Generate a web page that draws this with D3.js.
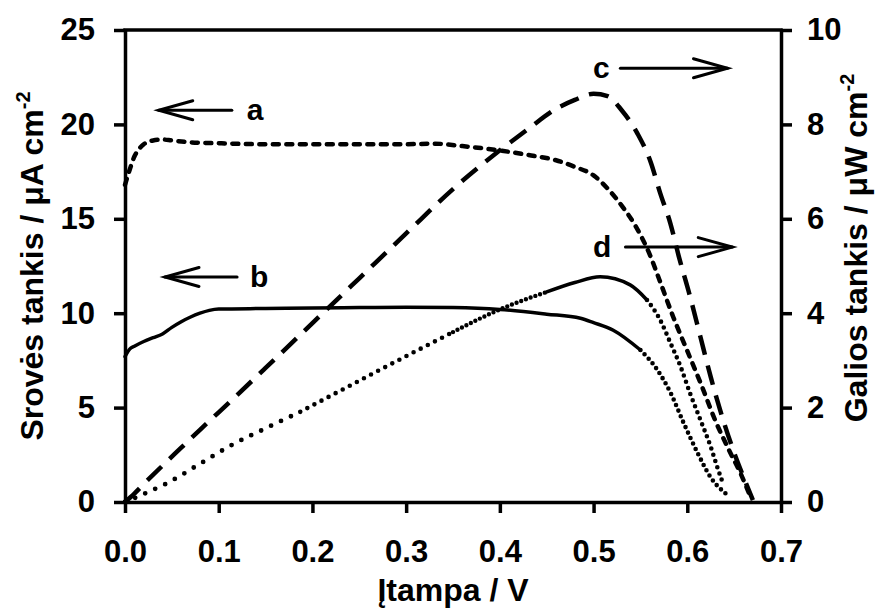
<!DOCTYPE html>
<html>
<head>
<meta charset="utf-8">
<script src="https://cdn.jsdelivr.net/npm/d3@7"></script>
<style>
  body { margin: 0; background: #fff; }
  svg text { font-family: "Liberation Sans", Arial, sans-serif; font-weight: bold; fill: #000; }
</style>
</head>
<body>
<svg id="chart" width="881" height="610"></svg>
<script>
// Current density (a, b; left axis) and power density (c, d; right axis) vs. voltage.

// a – current density, µA cm-2
const voltageA = [0, 0.005, 0.01, 0.015, 0.02, 0.03, 0.04, 0.05, 0.07, 0.1, 0.15, 0.2, 0.25, 0.3, 0.33, 0.36, 0.4, 0.43, 0.46, 0.48, 0.5, 0.515, 0.53, 0.545, 0.56, 0.57, 0.585, 0.6, 0.615, 0.63, 0.645, 0.657, 0.668];
const currentA = [16.8, 17.6, 18.3, 18.7, 18.95, 19.15, 19.2, 19.15, 19.05, 19.0, 18.95, 18.95, 18.95, 18.95, 18.98, 18.85, 18.62, 18.38, 18.1, 17.75, 17.3, 16.6, 15.7, 14.6, 13.1, 11.8, 9.8, 8.0, 6.2, 4.3, 2.7, 1.5, 0.2];

// b – current density, µA cm-2
const voltageB = [0, 0.005, 0.01, 0.02, 0.03, 0.04, 0.05, 0.06, 0.07, 0.08, 0.09, 0.1, 0.15, 0.2, 0.25, 0.3, 0.35, 0.4, 0.45, 0.486, 0.5, 0.521, 0.55, 0.568, 0.582, 0.596, 0.611, 0.625, 0.641];
const currentB = [7.7, 8.1, 8.25, 8.5, 8.7, 8.9, 9.25, 9.55, 9.8, 10.0, 10.15, 10.22, 10.25, 10.28, 10.3, 10.32, 10.3, 10.2, 9.95, 9.73, 9.5, 9.1, 8.05, 7.0, 5.8, 4.2, 2.6, 1.3, 0.45];

// c – power density, µW cm-2
const voltageC = [0, 0.01, 0.02, 0.04, 0.06, 0.08, 0.1, 0.15, 0.2, 0.25, 0.3, 0.35, 0.4, 0.43, 0.46, 0.48, 0.5, 0.515, 0.53, 0.547, 0.561, 0.571, 0.582, 0.591, 0.603, 0.614, 0.625, 0.635, 0.649, 0.66, 0.67];
const powerC = [0, 0.18, 0.38, 0.77, 1.15, 1.53, 1.9, 2.84, 3.79, 4.74, 5.69, 6.63, 7.45, 7.9, 8.33, 8.52, 8.65, 8.6, 8.3, 7.8, 7.2, 6.55, 5.9, 5.2, 4.35, 3.5, 2.65, 1.95, 1.1, 0.53, 0.04];

// d – power density, µW cm-2
const voltageD = [0, 0.01, 0.02, 0.045, 0.08, 0.115, 0.15, 0.187, 0.25, 0.3, 0.35, 0.4, 0.45, 0.48, 0.507, 0.539, 0.557, 0.571, 0.582, 0.593, 0.603, 0.614, 0.625, 0.632, 0.638];
const powerD = [0, 0.08, 0.17, 0.4, 0.81, 1.22, 1.56, 1.91, 2.57, 3.09, 3.6, 4.08, 4.45, 4.65, 4.77, 4.6, 4.28, 3.86, 3.37, 2.86, 2.3, 1.74, 1.17, 0.74, 0.4];

// Axis ticks
const voltageTicks = [0, 0.1, 0.2, 0.3, 0.4, 0.5, 0.6, 0.7];
const currentTicks = [0, 5, 10, 15, 20, 25];
const powerTicks = [0, 2, 4, 6, 8, 10];

// Arrow annotations pointing to the axis each curve belongs to
const annotationLabels = ["a", "b", "c", "d"];
const annotationAxis = ["left", "left", "right", "right"];
const annotationLevel = [20.75, 11.92, 9.19, 5.40];
const annotationTail = [0.114, 0.1196, 0.5286, 0.534];
const annotationTip = [0.036, 0.0427, 0.6429, 0.648];
const annotationTextAt = [0.130, 0.1335, 0.4995, 0.4995];

const svg = d3.select("#chart");
const margin = { left: 125, right: 100, top: 30, bottom: 108 };
const W = 881, H = 610;

const x = d3.scaleLinear().domain([0, 0.7]).range([margin.left, W - margin.right]);
const yL = d3.scaleLinear().domain([0, 25]).range([H - margin.bottom, margin.top]);
const yR = d3.scaleLinear().domain([0, 10]).range([H - margin.bottom, margin.top]);

svg.append("rect").attr("width", W).attr("height", H).attr("fill", "#fff");

// Curves
function drawSeries(xs, ys, yScale, width, segments) {
  const pts = xs.map((v, i) => [v, ys[i]]);
  const line = d3.line().x(d => x(d[0])).y(d => yScale(d[1])).curve(d3.curveMonotoneX);
  segments.forEach(seg => {
    const part = pts.filter(p => p[0] >= seg.from && p[0] <= seg.to);
    svg.append("path")
      .attr("d", line(part))
      .attr("fill", "none")
      .attr("stroke", "#000")
      .attr("stroke-width", seg.width || width)
      .attr("stroke-linecap", seg.cap || "round")
      .attr("stroke-linejoin", "round")
      .attr("stroke-dasharray", seg.dash || null);
  });
}

drawSeries(voltageA, currentA, yL, 4.5, [{ from: 0, to: 1, dash: "6,7.5", cap: "round" }]);
drawSeries(voltageC, powerC, yR, 4.5, [{ from: 0, to: 1, dash: "20,11", cap: "butt" }]);
drawSeries(voltageB, currentB, yL, 3.5, [
  { from: 0, to: 0.55 },
  { from: 0.55, to: 1, dash: "0,6", cap: "round", width: 4.6 }
]);
drawSeries(voltageD, powerD, yR, 3.5, [
  { from: 0, to: 0.187, dash: "0,11", cap: "round", width: 4.8 },
  { from: 0.187, to: 0.35, dash: "0,8", cap: "round", width: 4.6 },
  { from: 0.35, to: 0.45, dash: "0,5", cap: "round", width: 4.4 },
  { from: 0.45, to: 0.557 },
  { from: 0.557, to: 1, dash: "0,6.5", cap: "round", width: 4.6 }
]);

// Axes and frame
const axisWidth = 3.5;
function styleAxis(g, fontSize) {
  g.select(".domain").attr("stroke", "#000").attr("stroke-width", axisWidth);
  g.selectAll(".tick line").attr("stroke", "#000").attr("stroke-width", axisWidth);
  g.selectAll(".tick text").style("font-size", fontSize + "px").attr("fill", "#000");
}

svg.append("g")
  .attr("transform", `translate(0,${yL(0)})`)
  .call(d3.axisBottom(x).tickValues(voltageTicks).tickFormat(d3.format(".1f")).tickSize(11).tickSizeOuter(0).tickPadding(27))
  .call(g => styleAxis(g, 31));

svg.append("g")
  .attr("transform", `translate(${x(0)},0)`)
  .call(d3.axisLeft(yL).tickValues(currentTicks).tickFormat(d3.format("d")).tickSize(11).tickSizeOuter(0).tickPadding(19))
  .call(g => styleAxis(g, 31));

svg.append("g")
  .attr("transform", `translate(${x(0.7)},0)`)
  .call(d3.axisRight(yR).tickValues(powerTicks).tickFormat(d3.format("d")).tickSize(11).tickSizeOuter(0).tickPadding(15))
  .call(g => styleAxis(g, 31));

svg.append("line")
  .attr("x1", x(0) - axisWidth / 2).attr("x2", x(0.7) + axisWidth / 2)
  .attr("y1", yL(25)).attr("y2", yL(25))
  .attr("stroke", "#000").attr("stroke-width", axisWidth);

// Axis titles
svg.append("text")
  .attr("x", (x(0) + x(0.7)) / 2).attr("y", 601)
  .attr("text-anchor", "middle").style("font-size", "32px")
  .text("Įtampa / V");

function yTitle(cx, cy, main, sup) {
  const t = svg.append("text")
    .attr("transform", `translate(${cx},${cy}) rotate(-90)`)
    .attr("text-anchor", "middle").style("font-size", "32px");
  t.append("tspan").text(main);
  t.append("tspan").attr("dy", -13).style("font-size", "20px").text(sup);
}
yTitle(43, (yL(0) + yL(25)) / 2, "Srovės tankis / μA cm", "-2");
yTitle(867, 248, "Galios tankis / μW cm", "-2");

// Arrow annotations
annotationLabels.forEach((lab, i) => {
  const ys = annotationAxis[i] === "left" ? yL : yR;
  const yy = ys(annotationLevel[i]);
  const x0 = x(annotationTail[i]), x1 = x(annotationTip[i]);
  const dir = Math.sign(x1 - x0);
  const g = svg.append("g").attr("stroke", "#000").attr("stroke-width", 3).attr("fill", "none").attr("stroke-linecap", "round");
  g.append("line").attr("x1", x0).attr("x2", x1).attr("y1", yy).attr("y2", yy);
  g.append("path").attr("d", `M${x1 - dir * 34},${yy - 9.5}L${x1},${yy}L${x1 - dir * 34},${yy + 9.5}`);
  svg.append("text")
    .attr("x", x(annotationTextAt[i])).attr("y", yy).attr("dy", "0.33em")
    .style("font-size", "30px").text(lab);
});
</script>
</body>
</html>
